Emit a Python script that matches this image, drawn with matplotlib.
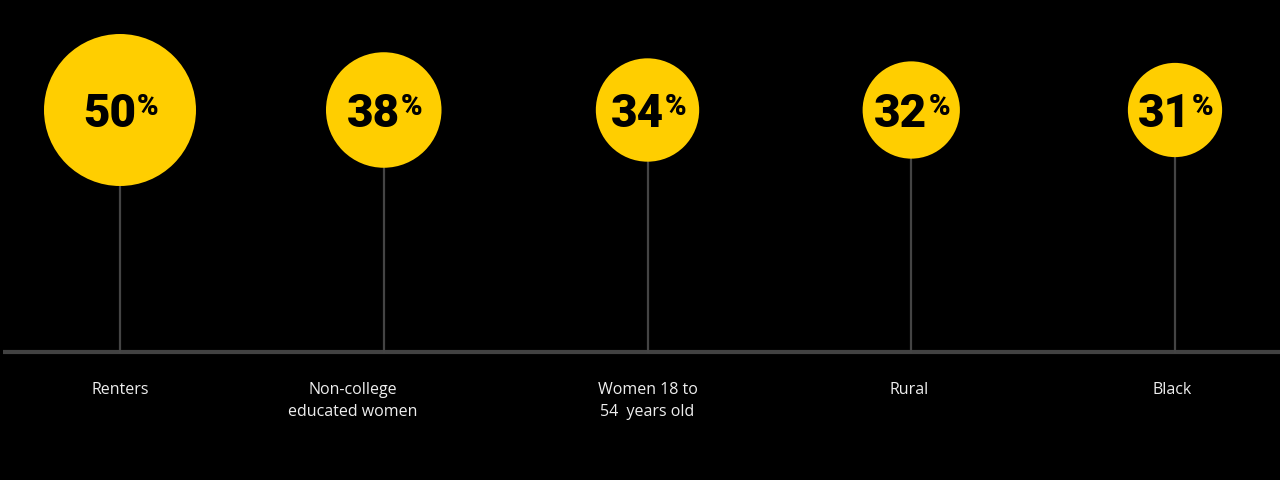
import matplotlib
matplotlib.use("Agg")
import matplotlib.pyplot as plt
import matplotlib.patches as mpl_patches

# data
categories = ["Renters", "Non-college\neducated women", "Women 18 to\n54  years old", "Rural", "Black"]
values = [50, 38, 34, 32, 31]

# layout (pixel coords, figure is 1280x480 at dpi 100)
W, H = 1280, 480
x_first, x_step = 120, 263.75
center_y = 110
base_y = 352
px_per_pct = 1.52          # circle radius grows linearly with the value
label_dx = [0, -31, 0, -2, -3]

YELLOW = "#FFCE00"
GREY = "#444444"

fig = plt.figure(figsize=(12.8, 4.8), dpi=100, facecolor="black")
ax = fig.add_axes([0, 0, 1, 1])
ax.set_facecolor("black")
ax.set_xlim(0, W)
ax.set_ylim(H, 0)
ax.set_aspect("equal")
ax.axis("off")

# baseline
ax.plot([3, W], [base_y, base_y], color="#424242", lw=3, solid_capstyle="butt", zorder=1)

for i, (cat, val) in enumerate(zip(categories, values)):
    cx = x_first + i * x_step
    r = val * px_per_pct
    # stem
    ax.plot([cx, cx], [center_y, base_y], color=GREY, lw=1.6, zorder=1)
    ax.add_patch(mpl_patches.Circle((cx, center_y), r, facecolor=YELLOW,
                                    edgecolor="none", zorder=2))
    # value + small percent sign
    ax.text(cx + 16, center_y + 17, str(val), ha="right", va="baseline",
            fontsize=33, fontweight="heavy", family="Roboto", color="black", zorder=3)
    ax.text(cx + 17, center_y + 5, "%", ha="left", va="baseline",
            fontsize=21, fontweight="heavy", family="Roboto", color="black", zorder=3)
    # category label
    ax.text(cx + label_dx[i], 382, cat, ha="center", va="top", fontsize=11.5,
            family="Open Sans", color="#eeeeee", linespacing=1.5)

fig.savefig("out.png", dpi=100, facecolor="black")
